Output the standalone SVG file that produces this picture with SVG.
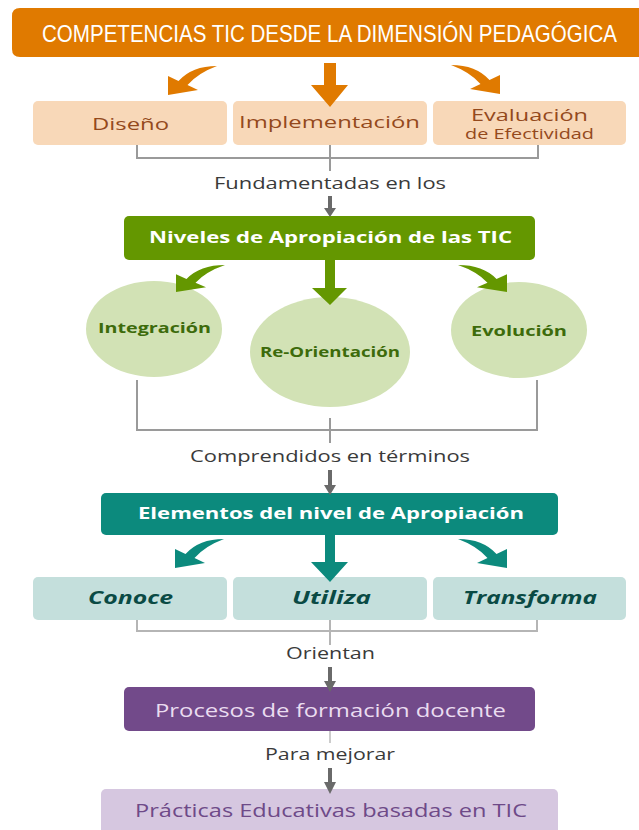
<svg xmlns="http://www.w3.org/2000/svg" width="639" height="830" viewBox="0 0 639 830">
<defs>
<style>
text{font-family:"Open Sans","Liberation Sans",sans-serif;text-anchor:middle}
.title{font-family:"Liberation Sans Narrow","Liberation Sans",sans-serif;font-size:20px;fill:#ffffff}
.peach{fill:#F8D8B8}
.brown{fill:#94491C;font-size:17px}
.lbl{fill:#3a3a3a;font-size:16px}
.wb{fill:#ffffff;font-weight:bold;font-size:16px}
.circ{fill:#D2E2B5}
.gt{fill:#3D6B0B;font-weight:bold;font-size:15px}
.tealbox{fill:#C4DFDC}
.tt{fill:#0A4A44;font-weight:bold;font-style:italic;font-size:17px}
.br{fill:none;stroke:#9a9a9a;stroke-width:2}
.gar{fill:#6a6a6a}
</style>
<path id="arrL" d="M 49 -29 Q 24 -29 10.5 -14 L 0 -19 L 0 0 L 30 -5 L 19.5 -10 Q 30 -22 49 -29 Z"/>
</defs>
<rect width="639" height="830" fill="#ffffff"/>

<g id="title">
<path d="M 20 8 H 639 V 57 H 20 Q 12 57 12 49 V 16 Q 12 8 20 8 Z" fill="#E07A00"/>
<text class="title" transform="translate(329.5,42) scale(1,1.2)" x="0" y="0" textLength="575" lengthAdjust="spacingAndGlyphs">COMPETENCIAS TIC DESDE LA DIMENSIÓN PEDAGÓGICA</text>
</g>

<g id="diseno">
<rect class="peach" x="33" y="101" width="194" height="44" rx="5"/>
<text class="brown" x="130.5" y="130" textLength="77" lengthAdjust="spacingAndGlyphs">Diseño</text>
</g>
<g id="implementacion">
<rect class="peach" x="233" y="101" width="194" height="44" rx="5"/>
<text class="brown" x="329.5" y="128" textLength="181" lengthAdjust="spacingAndGlyphs">Implementación</text>
</g>
<g id="evaluacion">
<rect class="peach" x="433" y="101" width="193" height="44" rx="5"/>
<text class="brown" x="529.5" y="121" textLength="117" lengthAdjust="spacingAndGlyphs">Evaluación</text>
<text class="brown" x="529.5" y="139" style="font-size:14px" textLength="129" lengthAdjust="spacingAndGlyphs">de Efectividad</text>
</g>

<g id="niveles">
<rect x="124" y="216" width="411" height="44" rx="5" fill="#649700"/>
<text class="wb" x="330.5" y="243" textLength="363" lengthAdjust="spacingAndGlyphs">Niveles de Apropiación de las TIC</text>
</g>
<g id="integracion">
<ellipse class="circ" cx="154" cy="329" rx="68" ry="48"/>
<text class="gt" x="154.5" y="333" textLength="113" lengthAdjust="spacingAndGlyphs">Integración</text>
</g>
<g id="reorientacion">
<ellipse class="circ" cx="330" cy="352" rx="80" ry="55"/>
<text class="gt" x="330" y="357" textLength="140" lengthAdjust="spacingAndGlyphs">Re-Orientación</text>
</g>
<g id="evolucion">
<ellipse class="circ" cx="519" cy="330" rx="68" ry="48"/>
<text class="gt" x="519" y="336" textLength="96" lengthAdjust="spacingAndGlyphs">Evolución</text>
</g>

<g id="elementos">
<rect x="101" y="493" width="457" height="42" rx="5" fill="#0C8A7D"/>
<text class="wb" x="331" y="519" textLength="386" lengthAdjust="spacingAndGlyphs">Elementos del nivel de Apropiación</text>
</g>
<g id="conoce">
<rect class="tealbox" x="33" y="577" width="194" height="43" rx="5"/>
<text class="tt" x="130.5" y="604" textLength="85" lengthAdjust="spacingAndGlyphs">Conoce</text>
</g>
<g id="utiliza">
<rect class="tealbox" x="233" y="577" width="194" height="43" rx="5"/>
<text class="tt" x="331.5" y="604" textLength="79" lengthAdjust="spacingAndGlyphs">Utiliza</text>
</g>
<g id="transforma">
<rect class="tealbox" x="433" y="577" width="193" height="43" rx="5"/>
<text class="tt" x="530" y="604" textLength="134" lengthAdjust="spacingAndGlyphs">Transforma</text>
</g>

<g id="procesos">
<rect x="124" y="687" width="411" height="44" rx="5" fill="#724A8A"/>
<text x="330.5" y="717" style="fill:#EADCF0;font-size:18px" textLength="351" lengthAdjust="spacingAndGlyphs">Procesos de formación docente</text>
</g>
<g id="practicas">
<rect x="101" y="789" width="457" height="50" rx="5" fill="#D6C7E0"/>
<text x="331" y="817" style="fill:#6E4A88;font-size:18px" textLength="392" lengthAdjust="spacingAndGlyphs">Prácticas Educativas basadas en TIC</text>
</g>

<g id="connectors">
<use href="#arrL" transform="translate(168,95)" fill="#E07A00"/>
<use href="#arrL" transform="translate(500,94) scale(-1,1)" fill="#E07A00"/>
<path d="M 324 63 L 336 63 L 336 85 L 348 85 L 330 107 L 311 85 L 324 85 Z" fill="#E07A00"/>
<path class="br" d="M 137 145 V 158 H 538 V 145 M 330 145 V 171"/>
<text class="lbl" x="330" y="189" textLength="232" lengthAdjust="spacingAndGlyphs">Fundamentadas en los</text>
<path class="gar" d="M 328 196 H 332 V 208 H 336 L 330 217 L 324 208 H 328 Z"/>
<use href="#arrL" transform="translate(176,292) scale(1,0.93)" fill="#649700"/>
<use href="#arrL" transform="translate(507,292) scale(-1,0.93)" fill="#649700"/>
<path d="M 325 260 L 335 260 L 335 288 L 347 288 L 330 305 L 312 288 L 325 288 Z" fill="#649700"/>
<path class="br" d="M 137 380 V 430 H 537 V 380 M 330 418 V 443"/>
<text class="lbl" x="330" y="462" textLength="280" lengthAdjust="spacingAndGlyphs">Comprendidos en términos</text>
<path class="gar" d="M 328 470 H 332 V 485 H 336 L 330 495 L 324 485 H 328 Z"/>
<use href="#arrL" transform="translate(175,568)" fill="#0C8A7D"/>
<use href="#arrL" transform="translate(507,568) scale(-1,1)" fill="#0C8A7D"/>
<path d="M 325 535 L 335 535 L 335 562 L 348 562 L 330 582 L 311 562 L 325 562 Z" fill="#0C8A7D"/>
<path class="br" d="M 137 620 V 631 H 537 V 620 M 330 620 V 645" style="stroke:#b5b5b5"/>
<text class="lbl" x="330.5" y="659" textLength="89" lengthAdjust="spacingAndGlyphs">Orientan</text>
<path class="gar" d="M 328 667 H 332 V 681 H 336 L 330 692 L 324 681 H 328 Z"/>
<path class="br" d="M 330 731 V 743" style="stroke:#cccccc"/>
<text class="lbl" x="330" y="760" textLength="130" lengthAdjust="spacingAndGlyphs">Para mejorar</text>
<path class="gar" d="M 328 768 H 332 V 782 H 336 L 330 794 L 324 782 H 328 Z"/>
</g>
</svg>
